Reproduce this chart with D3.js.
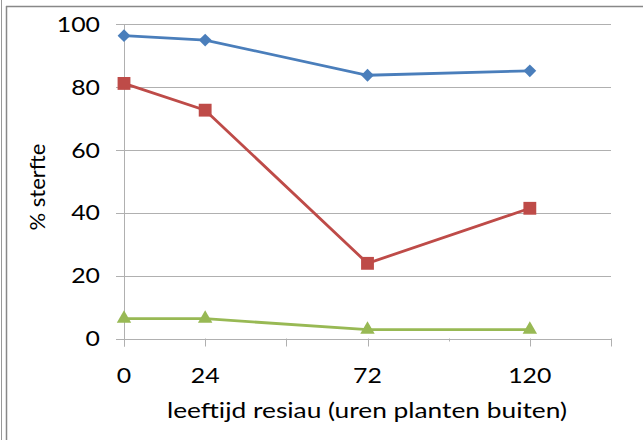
<!DOCTYPE html>
<html>
<head>
<meta charset="utf-8">
<script src="https://cdn.jsdelivr.net/npm/d3@7"></script>
<style>
  body { margin: 0; background: #fff; }
  text { font-family: Lato, "Open Sans", sans-serif; fill: #000; }
</style>
</head>
<body>
<div id="chart"></div>
<script>
// data
var hours = [0, 24, 72, 120];
var blueVals = [96.3, 94.9, 83.7, 85.1];
var redVals = [81.1, 72.6, 23.9, 41.4];
var greenVals = [6.3, 6.3, 2.8, 2.8];
var xTickVals = [0, 24, 48, 72, 96, 120, 144];
var xLabelVals = [0, 24, 72, 120];
var yTickVals = [0, 20, 40, 60, 80, 100];

var width = 643, height = 440;
var stretch = 1.13; // the reference text looks a bit wide
var svg = d3.select("#chart").append("svg")
    .attr("width", width)
    .attr("height", height);

// frame lines
svg.append("line").attr("x1", 1.5).attr("x2", 1.5).attr("y1", 0).attr("y2", height)
   .attr("stroke", "#999").attr("stroke-width", 1);
svg.append("line").attr("x1", 6.5).attr("x2", 6.5).attr("y1", 6).attr("y2", height)
   .attr("stroke", "#888").attr("stroke-width", 1.5);
svg.append("line").attr("x1", 6).attr("x2", width).attr("y1", 6.5).attr("y2", 6.5)
   .attr("stroke", "#888").attr("stroke-width", 1.5);

var x = d3.scaleLinear().domain([0, 144]).range([124, 611]);
var y = d3.scaleLinear().domain([0, 100]).range([338.5, 24]);

// horizontal gridlines (with tick stubs left of the axis)
svg.append("g")
   .selectAll("line")
   .data(yTickVals)
   .enter().append("line")
   .attr("x1", 116)
   .attr("x2", x(144))
   .attr("y1", function(d){ return Math.round(y(d)) + 0.5; })
   .attr("y2", function(d){ return Math.round(y(d)) + 0.5; })
   .attr("stroke", "#b0b0b0")
   .attr("stroke-width", 1);

// vertical axis line
svg.append("line")
   .attr("x1", x(0) + 0.5).attr("x2", x(0) + 0.5)
   .attr("y1", y(100)).attr("y2", y(0) + 8)
   .attr("stroke", "#b0b0b0");

// x axis ticks
svg.append("g")
   .selectAll("line")
   .data(xTickVals)
   .enter().append("line")
   .attr("x1", function(d){ return Math.round(x(d)) + 0.5; })
   .attr("x2", function(d){ return Math.round(x(d)) + 0.5; })
   .attr("y1", y(0))
   .attr("y2", function(d){ return d == 96 ? y(0) + 3 : y(0) + 8; })
   .attr("stroke", "#b0b0b0");

// y tick labels
svg.append("g")
   .selectAll("text")
   .data(yTickVals)
   .enter().append("text")
   .attr("transform", function(d){ return "translate(100," + y(d) + ") scale(" + stretch + ",1)"; })
   .attr("dy", "0.35em")
   .attr("text-anchor", "end")
   .style("font-size", "22px")
   .text(function(d){ return d; });

// x tick labels
svg.append("g")
   .selectAll("text")
   .data(xLabelVals)
   .enter().append("text")
   .attr("transform", function(d){ return "translate(" + x(d) + ",383) scale(" + stretch + ",1)"; })
   .attr("text-anchor", "middle")
   .style("font-size", "22px")
   .text(function(d){ return d; });

// axis titles
svg.append("text")
   .attr("x", 367)
   .attr("y", 418)
   .attr("text-anchor", "middle")
   .attr("textLength", 400)
   .attr("lengthAdjust", "spacingAndGlyphs")
   .style("font-size", "22px")
   .text("leeftijd resiau (uren planten buiten)");

svg.append("text")
   .attr("transform", "translate(45,187) rotate(-90)")
   .attr("text-anchor", "middle")
   .style("font-size", "22px")
   .text("% sterfte");

var series = [
    {vals: blueVals, color: "#4a7ebb", shape: d3.symbolSquare, size: 82, rot: 45},
    {vals: redVals, color: "#be4b48", shape: d3.symbolSquare, size: 165, rot: 0},
    {vals: greenVals, color: "#98b954", shape: d3.symbolTriangle, size: 90, rot: 0}
];

var line = d3.line()
    .x(function(d){ return x(d[0]); })
    .y(function(d){ return y(d[1]); });

series.forEach(function(s){
    var pts = hours.map(function(h, i){ return [h, s.vals[i]]; });
    svg.append("path")
       .datum(pts)
       .attr("d", line)
       .attr("fill", "none")
       .attr("stroke", s.color)
       .attr("stroke-width", 2.8);
    svg.append("g")
       .selectAll("path")
       .data(pts)
       .enter().append("path")
       .attr("d", d3.symbol().type(s.shape).size(s.size))
       .attr("transform", function(d){ return "translate(" + x(d[0]) + "," + y(d[1]) + ") rotate(" + s.rot + ")"; })
       .attr("fill", s.color);
});
</script>
</body>
</html>
